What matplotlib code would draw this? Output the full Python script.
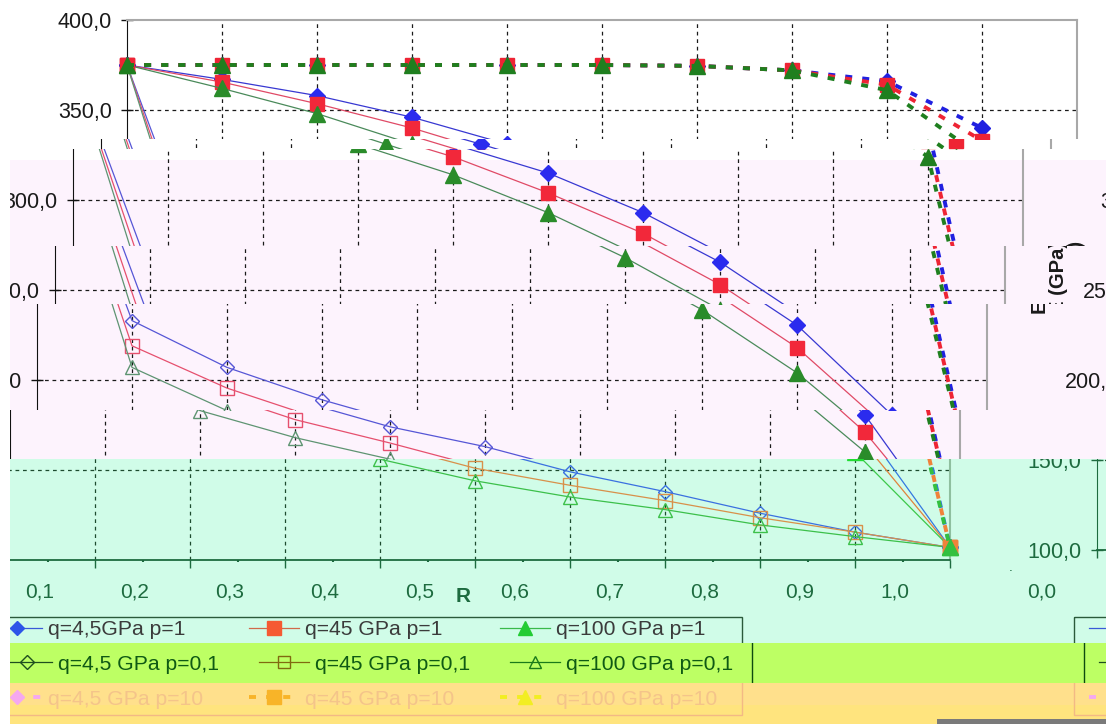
import matplotlib
matplotlib.use("Agg")
import matplotlib.pyplot as plt
from matplotlib.transforms import Affine2D, Bbox
from matplotlib.patches import Rectangle
from matplotlib.text import Text
from matplotlib.ticker import FixedLocator, FuncFormatter

plt.rcParams['font.family'] = ['Liberation Sans', 'DejaVu Sans']

W, H = 1106, 724

# ---- data -------------------------------------------------------------
R = [0.0, 0.1, 0.2, 0.3, 0.4, 0.5, 0.6, 0.7, 0.8, 0.9, 1.0]
R_MINOR = [0.05, 0.15, 0.25, 0.35, 0.45, 0.55, 0.65, 0.75, 0.85, 0.95]
E_TICKS = [100, 150, 200, 250, 300, 350, 400]

E_q4_5_p1 = [375, 367, 358, 346, 331, 315, 293, 265.5, 230.5, 180.5, 107]
E_q45_p1 = [375, 365.5, 353.5, 340, 324, 304, 281.5, 253, 218, 171, 107]
E_q100_p1 = [375, 362, 348, 331, 314, 293, 268, 239, 204, 160, 107]

E_q4_5_p01 = [375, 233, 207, 189, 174, 163, 149, 138, 126, 115.5, 107]
E_q45_p01 = [375, 219, 195.5, 178, 165, 151, 141.5, 133, 123.5, 115.5, 107]
E_q100_p01 = [375, 207, 183, 168, 156, 144, 135, 128, 119.5, 113, 107]

E_q4_5_p10 = [375, 375, 375, 375, 375, 375, 374.5, 372, 366, 340, 107]
E_q45_p10 = [375, 375, 375, 375, 375, 375, 374.5, 372, 364, 333, 107]
E_q100_p10 = [375, 375, 375, 375, 375, 375, 374.5, 372, 361, 324, 107]

LABELS_P1 = ['q=4,5GPa p=1', 'q=45 GPa p=1', 'q=100 GPa p=1']
LABELS_P01 = ['q=4,5 GPa p=0,1', 'q=45 GPa p=0,1', 'q=100 GPa p=0,1']
LABELS_P10 = ['q=4,5 GPa p=10', 'q=45 GPa p=10', 'q=100 GPa p=10']

SERIES = [
    (E_q4_5_p1, LABELS_P1[0], 'p1', 0),
    (E_q45_p1, LABELS_P1[1], 'p1', 1),
    (E_q100_p1, LABELS_P1[2], 'p1', 2),
    (E_q4_5_p01, LABELS_P01[0], 'p01', 0),
    (E_q45_p01, LABELS_P01[1], 'p01', 1),
    (E_q100_p01, LABELS_P01[2], 'p01', 2),
    (E_q4_5_p10, LABELS_P10[0], 'p10', 0),
    (E_q45_p10, LABELS_P10[1], 'p10', 1),
    (E_q100_p10, LABELS_P10[2], 'p10', 2),
]

MARKERS = ['D', 's', '^']
MS_FILLED = [8, 10.5, 11]
MS_OPEN = [7.5, 10, 10]

# ---- colour schemes ---------------------------------------------------
PALETTES = {
    'plain': dict(p1_line=['#3838d2', '#e04a66', '#4a8a5a'],
                  p1_mark=['#2b2bee', '#f2283a', '#2a8c2a'],
                  p01=['#5656d6', '#e6506e', '#5e9472'],
                  p10=['#2020e0', '#ee2434', '#1f7f1f'],
                  text='#1a1a1a', grid='#1a1a1a', axis='#111111',
                  border='#a8a8a8', frame='#333333', legtext='#333333'),
    'mint': dict(p1_line=['#3478e0', '#e0823c', '#3cc84a'],
                 p1_mark=['#3478e0', '#f0783c', '#22dd33'],
                 p01=['#3a70e0', '#d8904a', '#3cc04a'],
                 p10=['#2f70e6', '#f0823a', '#33c040'],
                 text='#1d6b3f', grid='#1d4b2f', axis='#1d6b3f',
                 border='#8fbf9f', frame='#2a5a3a', legtext='#3b3b3b'),
    'row1': dict(p1_line=['#3a5ad8', '#d06a4a', '#3aba4a'],
                 p1_mark=['#2d55e8', '#f55a32', '#22cc33'],
                 p01=['#3a70e0', '#d8904a', '#3cc04a'],
                 p10=['#2f70e6', '#f0823a', '#33c040'],
                 text='#1d6b3f', grid='#1d4b2f', axis='#1d6b3f',
                 border='#8fbf9f', frame='#2a5a3a', legtext='#3b3b3b'),
    'row2': dict(p1_line=['#1f4f1f', '#7a6a10', '#2a8a2a'],
                 p1_mark=['#1f4f1f', '#7a6a10', '#2a8a2a'],
                 p01=['#1f4f1f', '#806a10', '#1a7a1a'],
                 p10=['#1f4f1f', '#806a10', '#1a7a1a'],
                 text='#0f5a14', grid='#0f4a10', axis='#0f4a10',
                 border='#0f4a10', frame='#0f4a10', legtext='#0f5a14'),
    'row3': dict(p1_line=['#f5a0ef', '#f7b22a', '#f4ec2a'],
                 p1_mark=['#f5a0ef', '#f7b22a', '#f4ec2a'],
                 p01=['#f5a0ef', '#f7b22a', '#f4ec2a'],
                 p10=['#f5a8f0', '#f8b428', '#f2ee22'],
                 text='#f4c27e', grid='#f0c080', axis='#f0c080',
                 border='#f0c080', frame='#f3b985', legtext='#f4c48a'),
}

# plot frame in page pixels (top-left origin)
X0, X1, Y0, Y1 = 127, 1077, 20, 560

fig = plt.figure(figsize=(W / 100, H / 100), dpi=100)
fig.patch.set_facecolor('white')


def page_rect(x0, y0, x1, y1, color, z=-10):
    fig.add_artist(Rectangle((x0 / W, 1 - y1 / H), (x1 - x0) / W, (y1 - y0) / H,
                             transform=fig.transFigure, facecolor=color,
                             edgecolor='none', zorder=z))


# page backgrounds
page_rect(10, 160, W, 459, '#fdf3fd')
page_rect(10, 459, W, 643, '#d0fce8')
page_rect(10, 643, W, 683, '#bdff64')
page_rect(10, 683, W, 705, '#ffe08c')
page_rect(10, 705, W, H, '#ffe47e')

fmt = FuncFormatter(lambda v, p: f"{v:.1f}".replace('.', ','))

copies = []


def draw_copy(y0, y1, dx, dy, pal_name):
    pal = PALETTES[pal_name]
    T = Affine2D().scale(1, -1).translate(dx, H - dy)
    ax = fig.add_axes([(X0 + dx) / W, (H - Y1 - dy) / H, (X1 - X0) / W, (Y1 - Y0) / H])
    ax.patch.set_visible(False)

    for vals, lab, grp, k in SERIES:
        if grp == 'p1':
            ax.plot(R, vals, color=pal['p1_line'][k], lw=0.9, marker=MARKERS[k],
                    ms=MS_FILLED[k], mfc=pal['p1_mark'][k], mec=pal['p1_mark'][k],
                    label=lab, zorder=3)
        elif grp == 'p01':
            ax.plot(R, vals, color=pal['p01'][k], lw=0.9, marker=MARKERS[k],
                    ms=MS_OPEN[k], mfc='none', mec=pal['p01'][k], mew=1.0,
                    label=lab, zorder=3)
        else:
            ax.plot(R, vals, color=pal['p10'][k], lw=2.8, ls=(0, (1.8, 2.6)),
                    marker=MARKERS[k], ms=MS_FILLED[k], mfc=pal['p10'][k],
                    mec=pal['p10'][k], label=lab, zorder=4)

    for r in R[1:-1]:
        ax.axvline(r, color=pal['grid'], lw=0.9, ls=(0, (3, 3)), zorder=1)
    for e in E_TICKS[1:-1]:
        ax.axhline(e, color=pal['grid'], lw=0.9, ls=(0, (3, 3)), zorder=1)

    ax.set_xlim(0, 1.0)
    ax.set_ylim(100, 400)
    ax.xaxis.set_major_locator(FixedLocator(R))
    ax.xaxis.set_minor_locator(FixedLocator(R_MINOR))
    ax.yaxis.set_major_locator(FixedLocator(E_TICKS))
    ax.xaxis.set_major_formatter(fmt)
    ax.yaxis.set_major_formatter(fmt)
    ax.tick_params(axis='y', which='major', direction='inout', length=8, width=1,
                   color=pal['axis'], labelcolor=pal['text'], labelsize=15.5, pad=7)
    ax.tick_params(axis='x', which='major', direction='out', length=6, width=1,
                   color=pal['axis'], labelcolor=pal['text'], labelsize=15, pad=10)
    ax.tick_params(axis='x', which='minor', direction='out', length=1.5, width=1.5,
                   color=pal['axis'])
    ax.spines['left'].set_color(pal['axis'])
    ax.spines['bottom'].set_color(pal['axis'])
    ax.spines['bottom'].set_linewidth(1.3)
    for s in ('top', 'right'):
        ax.spines[s].set_color(pal['border'])
        ax.spines[s].set_linewidth(1.5)

    ax.text(645, 597, 'R', transform=T, ha='center', va='center', fontsize=15,
            fontweight='bold', color=pal['text'])
    ax.text(33, 277, 'E (GPa)', transform=T, ha='center', va='center', fontsize=14.5,
            fontweight='bold', rotation=90, color=pal['text'])

    handles, labels = ax.get_legend_handles_labels()
    order = [0, 3, 6, 1, 4, 7, 2, 5, 8]
    ax.legend([handles[i] for i in order], [labels[i] for i in order], ncol=3,
              loc='upper left', bbox_to_anchor=(174, 620), bbox_transform=T,
              frameon=False, fontsize=15.2, handlelength=2.37, handletextpad=0.28,
              columnspacing=1.9, labelspacing=0.75, borderpad=0, borderaxespad=0,
              labelcolor=pal['legtext'], markerscale=0.9)
    ax.add_artist(Rectangle((159, 617), 765, 98, transform=T, fill=False,
                            edgecolor=pal['frame'], lw=1))

    xc0 = 0 if y0 < 149 else 10
    clip = Bbox.from_extents(xc0, H - y1, W, H - y0)
    copies.append((ax, clip))


# horizontal strips: (top, bottom, x shift, y shift, colours)
STRIPS = [
    (0, 139, 0, 0, 'plain'),
    (139, 149, -26, 0, 'plain'),
    (149, 246, -54, 0, 'plain'),
    (246, 304, -72, 0, 'plain'),
    (304, 410, -90, 0, 'plain'),
    (410, 459, -117, 0, 'plain'),
    (459, 570, -127, 0, 'mint'),
    (570, 612, -182, 0, 'mint'),
    (612, 643, -182, 0, 'row1'),
    (643, 683, -172, 0, 'row2'),
    (683, 724, -182, 0, 'row3'),
]
WRAP = 1097

for y0, y1, dx, dy, pal in STRIPS:
    draw_copy(y0, y1, dx, dy, pal)
    if dx < 0:
        wdy = -10 if pal == 'mint' and y0 == 459 else dy
        draw_copy(y0, y1, dx + WRAP, wdy, pal)

fig.canvas.draw()
renderer = fig.canvas.get_renderer()
for ax, clip in copies:
    for art in ax.findobj():
        if art is ax:
            continue
        art.set_clip_path(None)
        art.set_clip_on(True)
        art.set_clip_box(clip)
        if isinstance(art, Text) and art.get_visible() and art.get_text():
            ext = art.get_window_extent(renderer)
            inside = (ext.x1 > clip.x0 and ext.x0 < clip.x1 and
                      ext.y1 > clip.y0 and ext.y0 < clip.y1)
            if not inside:
                art.set_visible(False)

page_rect(937, 719, W, H, '#7a7a7a', z=50)

fig.savefig('out.png', dpi=100)
